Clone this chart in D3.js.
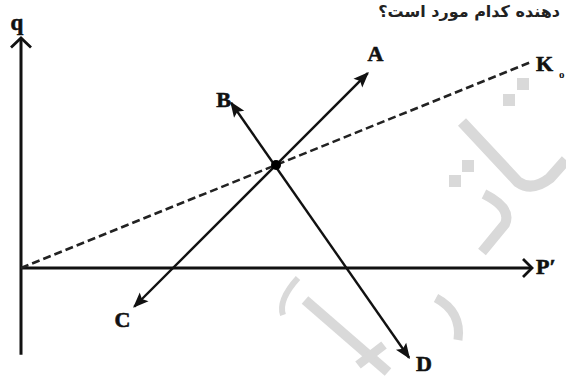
<!DOCTYPE html>
<html><head><meta charset="utf-8">
<script src="https://cdn.jsdelivr.net/npm/d3@7"></script>
<style>html,body{margin:0;padding:0;background:#fff;}svg{display:block;}</style>
</head><body>
<script>
// Data (abstract units)
const kLine = [[0, 0], [10, 4.04]];
const intersection = [5, 2.02];
const lineCA = [[2.22, -0.76], [6.8, 3.82]];   // C tail -> A head (arrows both ends)
const lineBD = [[4.12, 3.24], [7.61, -1.76]];  // B head, D head
const pointLabels = ["A", "B", "C", "D"];
const labelPos = [[6.95, 4.2], [3.97, 3.3], [1.99, -1.02], [7.9, -1.88]];
const axisLabels = ["q", "P′", "K"];
const question = "دهنده کدام مورد است؟";

const W = 566, H = 376;
const x = d3.scaleLinear().domain([0, 10]).range([21, 531]);
const y = d3.scaleLinear().domain([0, 5]).range([268, 13]);

const svg = d3.select("body").append("svg").attr("width", W).attr("height", H);
svg.append("rect").attr("width", W).attr("height", H).attr("fill", "#fff");

// watermark
const wm = svg.append("g").attr("fill", "none").attr("stroke", "#d9d9d9").attr("stroke-linecap", "butt");
wm.append("path").attr("d", "M462,122 L518,182 Q532,192 550,178 L566,160").attr("stroke-width", 11);
wm.append("path").attr("d", "M484,194 Q512,208 505,224 L482,252").attr("stroke-width", 10);
wm.append("path").attr("d", "M298,278 Q278,300 283,315").attr("stroke-width", 6);
wm.append("path").attr("d", "M305,300 L388,372").attr("stroke-width", 10);
wm.append("path").attr("d", "M436,298 Q462,312 458,340").attr("stroke-width", 9);
wm.append("path").attr("d", "M358,365 L384,345").attr("stroke-width", 9);
const dots = [[523,84],[509,100],[468,166],[455,181]];
svg.append("g").selectAll("rect").data(dots).join("rect")
  .attr("x", d => d[0]-6).attr("y", d => d[1]-6).attr("width", 12).attr("height", 12)
  .attr("fill", "#d9d9d9");

// question text
svg.append("text").attr("x", 560).attr("y", 17).attr("text-anchor", "start")
  .attr("direction", "rtl").attr("font-family", "DejaVu Sans").attr("font-weight", "bold")
  .attr("font-size", 16).attr("fill", "#222").text(question);

// defs
const defs = svg.append("defs");
defs.append("marker").attr("id", "tri").attr("viewBox", "0 0 10 10").attr("refX", 9).attr("refY", 5)
  .attr("markerWidth", 6.5).attr("markerHeight", 6.5).attr("markerUnits", "strokeWidth").attr("orient", "auto-start-reverse")
  .append("path").attr("d", "M0,1 L10,5 L0,9 L2,5 Z").attr("fill", "#111");

// axes
const ax = svg.append("g").attr("stroke", "#111").attr("fill", "none");
ax.append("line").attr("x1", x(0)).attr("x2", x(0)).attr("y1", y(-1.7)).attr("y2", y(4.5)).attr("stroke-width", 3);
ax.append("path").attr("d", `M${x(0)-10},${y(4.5)+9} L${x(0)},${y(4.5)-0.5} L${x(0)+10},${y(4.5)+9}`).attr("stroke-width", 2.8);
ax.append("line").attr("x1", x(0)).attr("x2", x(10)).attr("y1", y(0)).attr("y2", y(0)).attr("stroke-width", 3);
ax.append("path").attr("d", `M${x(10)-8},${y(0)-9} L${x(10)+1},${y(0)} L${x(10)-8},${y(0)+9}`).attr("stroke-width", 2.8);

// K dashed line
svg.append("line").attr("x1", x(kLine[0][0])).attr("y1", y(kLine[0][1]))
  .attr("x2", x(kLine[1][0])).attr("y2", y(kLine[1][1]))
  .attr("stroke", "#222").attr("stroke-width", 2.6).attr("stroke-dasharray", "8,4");

// CA and BD lines
[lineCA, lineBD].forEach(l => {
  svg.append("line").attr("x1", x(l[0][0])).attr("y1", y(l[0][1]))
    .attr("x2", x(l[1][0])).attr("y2", y(l[1][1]))
    .attr("stroke", "#111").attr("stroke-width", 2.4)
    .attr("marker-start", "url(#tri)").attr("marker-end", "url(#tri)");
});

svg.append("circle").attr("cx", x(intersection[0])).attr("cy", y(intersection[1])).attr("r", 5).attr("fill", "#000");

// labels
const lab = svg.append("g").attr("font-family", "Liberation Serif, serif").attr("font-weight", "bold")
  .attr("fill", "#111").attr("stroke", "#111").attr("stroke-width", 0.6).attr("text-anchor", "middle");
lab.selectAll("text.pt").data(pointLabels).join("text").attr("class", "pt")
  .attr("x", (d, i) => x(labelPos[i][0])).attr("y", (d, i) => y(labelPos[i][1]) + 7)
  .attr("font-size", 22).text(d => d);
lab.append("text").attr("x", 17).attr("y", 30).attr("font-size", 23).text(axisLabels[0]);
lab.append("text").attr("x", 536).attr("y", 274).attr("text-anchor", "start").attr("font-size", 22).text(axisLabels[1]);
lab.append("text").attr("x", 536).attr("y", 71).attr("text-anchor", "start").attr("font-size", 22).text(axisLabels[2]);
lab.append("text").attr("x", 559).attr("y", 78).attr("text-anchor", "start").attr("font-size", 11).attr("stroke-width", 0).text("o");
</script>
</body></html>
